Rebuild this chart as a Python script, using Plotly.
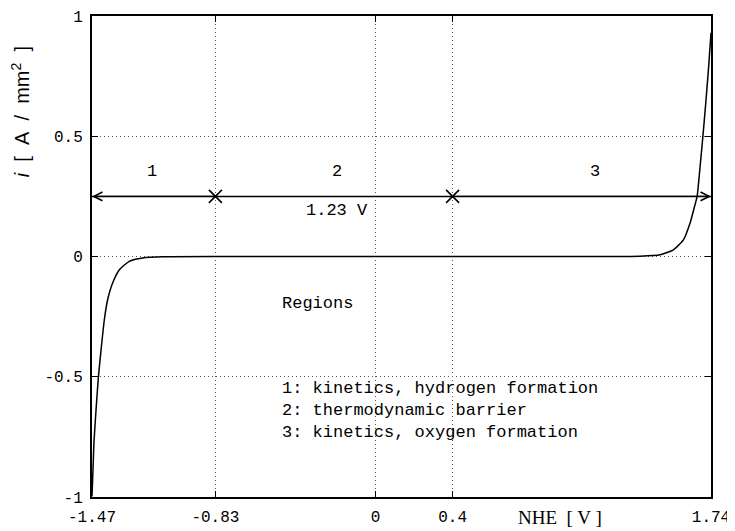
import plotly.graph_objects as go

# Polarisation curve (NHE potential [V], current density [A/mm^2])
volt = [-1.47, -1.466, -1.460, -1.449, -1.437, -1.423, -1.406, -1.389, -1.363, -1.328,
        -1.277, -1.207, -1.10, -0.80, -0.40, 0.0, 0.40, 0.80, 1.20, 1.372, 1.476,
        1.545, 1.597, 1.632, 1.652, 1.668, 1.683, 1.698, 1.712, 1.727, 1.74]
current = [-0.997, -0.914, -0.775, -0.637, -0.503, -0.388, -0.263, -0.18, -0.11, -0.055,
           -0.02, -0.006, -0.001, 0.0, 0.0, 0.0, 0.0, 0.0, 0.0, 0.001, 0.007,
           0.028, 0.069, 0.14, 0.2, 0.25, 0.37, 0.5, 0.63, 0.78, 0.93]

# Region boundaries and the 1.23 V arrow
bounds = [-1.47, -0.83, 0.4, 1.74]
arrow_level = 0.25
region_labels = ["1", "2", "3"]
region_label_x = [-1.16, -0.20, 1.14]
region_label_y = 0.354
span_label = "1.23 V"
span_label_xy = (-0.20, 0.19)

legend_title = "Regions"
legend_lines = ["1: kinetics, hydrogen formation",
                "2: thermodynamic barrier",
                "3: kinetics, oxygen formation"]
legend_x = -0.495
legend_title_y = -0.195
legend_y = [-0.55, -0.64, -0.73]

x_ticks = [-1.47, -0.83, 0, 0.4, 1.74]
x_ticktext = ["-1.47", "-0.83", "0", "0.4", "1.74"]
y_ticks = [-1, -0.5, 0, 0.5, 1]
y_ticktext = ["-1", "-0.5", "0", "0.5", "1"]

mono = "Liberation Mono"
txt = dict(family=mono, size=17, color="black")
sp = "&nbsp;&nbsp;"

fig = go.Figure()

fig.add_trace(go.Scatter(x=volt, y=current, mode="lines",
                         line=dict(color="black", width=1.5, shape="spline", smoothing=0.5),
                         hoverinfo="skip", showlegend=False))

# horizontal span line
fig.add_trace(go.Scatter(x=[bounds[0], bounds[-1]], y=[arrow_level, arrow_level], mode="lines",
                         line=dict(color="black", width=1.5), showlegend=False, hoverinfo="skip"))
# crosses at inner boundaries
fig.add_trace(go.Scatter(x=bounds[1:-1], y=[arrow_level] * (len(bounds) - 2), mode="markers",
                         marker=dict(symbol="x-thin", size=13, line=dict(color="black", width=1.6)),
                         showlegend=False, hoverinfo="skip"))

annotations = []
# open arrowheads at both ends
for tip, tail in [(bounds[-1], bounds[-2]), (bounds[0], bounds[1])]:
    annotations.append(dict(x=tip, y=arrow_level, ax=tail, ay=arrow_level, xref="x", yref="y",
                            axref="x", ayref="y", text="", showarrow=True, arrowhead=5,
                            arrowsize=1.3, arrowwidth=1.3, arrowcolor="black", standoff=0))
for lab, lx in zip(region_labels, region_label_x):
    annotations.append(dict(x=lx, y=region_label_y, text=lab, showarrow=False, font=txt))
annotations.append(dict(x=span_label_xy[0], y=span_label_xy[1], text=span_label,
                        showarrow=False, font=txt))
annotations.append(dict(x=legend_x, y=legend_title_y, text=legend_title, showarrow=False,
                        xanchor="left", font=txt))
for line, ly in zip(legend_lines, legend_y):
    annotations.append(dict(x=legend_x, y=ly, text=line, showarrow=False, xanchor="left", font=txt))
# axis titles
annotations.append(dict(xref="paper", yref="paper", x=-0.1163, y=0.80, xanchor="center",
                        yanchor="middle", textangle=-90,
                        text="<i>i</i>" + sp + "[" + sp + "A" + sp + "/" + sp + "mm<sup>2</sup>" + sp + "]",
                        showarrow=False,
                        font=dict(family="Liberation Sans", size=20, color="black")))
annotations.append(dict(xref="paper", yref="paper", x=0.756, y=-0.0416, xanchor="center",
                        yanchor="middle", text="NHE  [ V ]", showarrow=False,
                        font=dict(family="Liberation Serif", size=19, color="black")))

axis_common = dict(showline=True, linecolor="black", linewidth=2, mirror="ticks",
                   ticks="inside", ticklen=6, tickwidth=1.3, tickcolor="black",
                   showgrid=True, gridcolor="#555555", griddash="1px,3px", gridwidth=1,
                   zeroline=False, automargin=False, ticklabeloverflow="allow",
                   tickfont=dict(family=mono, size=16, color="black"))

# the page adds an 8px body margin, so the figure is sized/margined to compensate
fig.update_layout(
    width=727, height=523,
    margin=dict(l=84, r=24, t=8, b=34),
    paper_bgcolor="white", plot_bgcolor="white",
    xaxis=dict(range=[-1.47, 1.74], tickmode="array", tickvals=x_ticks, ticktext=x_ticktext,
               ticklabelstandoff=4, **axis_common),
    yaxis=dict(range=[-1, 1], tickmode="array", tickvals=y_ticks, ticktext=y_ticktext,
               ticklabelstandoff=4, **axis_common),
    annotations=annotations,
    showlegend=False,
)

fig.write_html("out.html")
